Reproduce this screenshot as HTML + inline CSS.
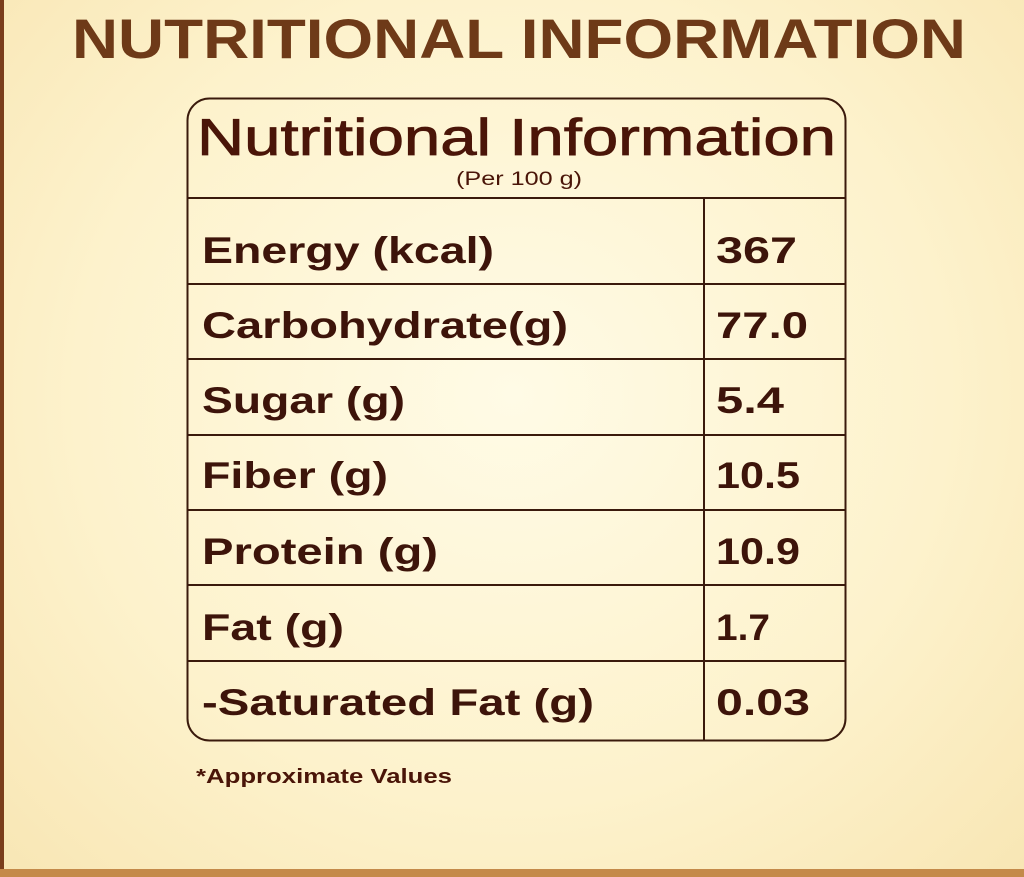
<!DOCTYPE html>
<html><head><style>
html,body{margin:0;padding:0;width:1024px;height:877px;overflow:hidden}
body{background:radial-gradient(ellipse at 50% 45%,#fffbe6 0%,#fdf2cc 60%,#f8e6b4 100%)}
</style></head><body>
<svg width="1024" height="877" xmlns="http://www.w3.org/2000/svg" style="position:absolute;left:0;top:0;font-family:'Liberation Sans',sans-serif">
<rect x="0" y="0" width="4" height="877" fill="#7a3e1c"/>
<rect x="0" y="869" width="1024" height="8" fill="#c48a4a"/>
<text x="72" y="58" font-size="56" font-weight="bold" fill="#6e3a18" textLength="894" lengthAdjust="spacingAndGlyphs">NUTRITIONAL INFORMATION</text>
<rect x="187.5" y="98.5" width="658" height="642" rx="22" fill="none" stroke="#3a1a0c" stroke-width="2"/>
<g stroke="#3a1a0c" stroke-width="2">
<line x1="187" y1="198" x2="846" y2="198"/>
<line x1="187" y1="284" x2="846" y2="284"/>
<line x1="187" y1="359" x2="846" y2="359"/>
<line x1="187" y1="435" x2="846" y2="435"/>
<line x1="187" y1="510" x2="846" y2="510"/>
<line x1="187" y1="585" x2="846" y2="585"/>
<line x1="187" y1="661" x2="846" y2="661"/>
<line x1="704" y1="198" x2="704" y2="740"/>
</g>
<text x="197" y="155" font-size="52" fill="#4a1508" stroke="#4a1508" stroke-width="0.8" textLength="639" lengthAdjust="spacingAndGlyphs">Nutritional Information</text>
<text x="456" y="185" font-size="19" fill="#4a1508" textLength="126" lengthAdjust="spacingAndGlyphs">(Per 100 g)</text>
<g font-size="37" font-weight="bold" fill="#3d140a">
<text x="202" y="263" textLength="292" lengthAdjust="spacingAndGlyphs">Energy (kcal)</text>
<text x="202" y="338" textLength="366" lengthAdjust="spacingAndGlyphs">Carbohydrate(g)</text>
<text x="202" y="413" textLength="203" lengthAdjust="spacingAndGlyphs">Sugar (g)</text>
<text x="202" y="488" textLength="186" lengthAdjust="spacingAndGlyphs">Fiber (g)</text>
<text x="202" y="564" textLength="236" lengthAdjust="spacingAndGlyphs">Protein (g)</text>
<text x="202" y="640" textLength="142" lengthAdjust="spacingAndGlyphs">Fat (g)</text>
<text x="202" y="715" textLength="392" lengthAdjust="spacingAndGlyphs">-Saturated Fat (g)</text>
<text x="716" y="263" textLength="81" lengthAdjust="spacingAndGlyphs">367</text>
<text x="716" y="338" textLength="92" lengthAdjust="spacingAndGlyphs">77.0</text>
<text x="716" y="413" textLength="68" lengthAdjust="spacingAndGlyphs">5.4</text>
<text x="716" y="488" textLength="84" lengthAdjust="spacingAndGlyphs">10.5</text>
<text x="716" y="564" textLength="84" lengthAdjust="spacingAndGlyphs">10.9</text>
<text x="716" y="640" textLength="54" lengthAdjust="spacingAndGlyphs">1.7</text>
<text x="716" y="715" textLength="94" lengthAdjust="spacingAndGlyphs">0.03</text>
</g>
<text x="196" y="783" font-size="20" font-weight="bold" fill="#4a1508" textLength="256" lengthAdjust="spacingAndGlyphs">*Approximate Values</text>
</svg>
</body></html>
